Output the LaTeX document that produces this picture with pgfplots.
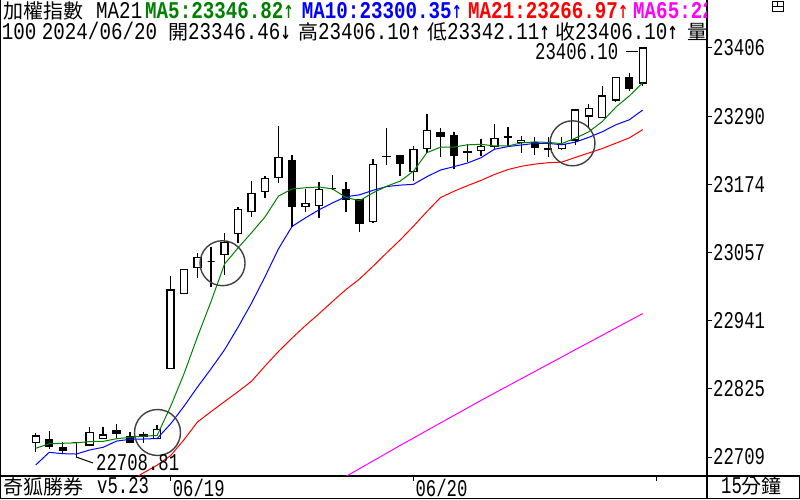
\documentclass[border=0pt]{standalone}
\usepackage{pgfplots}
\pgfplotsset{compat=1.18}
\usepackage{pgfplotstable}
\usepackage{fontspec}
\setmainfont{Liberation Serif}
\newfontfamily\mono[FakeStretch=0.8]{Liberation Mono}
\newfontfamily\monoax[FakeStretch=0.72]{Liberation Mono}
\newfontfamily\cjk{Noto Sans CJK TC}
\newfontfamily\arf[FakeStretch=0.7]{DejaVu Sans}
\definecolor{grn}{HTML}{008000}
\definecolor{blu}{HTML}{0000FF}
\definecolor{rd}{HTML}{FF0000}
\definecolor{mag}{HTML}{FF00FF}
\newcommand\T[1]{{\mono\fontsize{24pt}{24pt}\selectfont #1}}
\newcommand\TB[1]{{\mono\bfseries\fontsize{24pt}{24pt}\selectfont #1}}
\newcommand\C[1]{{\cjk\fontsize{20pt}{20pt}\selectfont #1}}
\newcommand\A[1]{{\monoax\fontsize{24pt}{24pt}\selectfont #1}}
\newcommand\AR[1]{{\arf\bfseries\fontsize{18pt}{18pt}\selectfont #1}}

\pgfplotstableread{
i O H L C F
0 22733.9 22749.2 22716.9 22744.6 white
1 22737.8 22753.2 22722.5 22726.4 black
2 22725.4 22734.9 22713.4 22720.8 black
3 22733.2 22734.9 22708.81 22733.2 white
4 22729.3 22759.5 22727.6 22750.9 white
5 22740.7 22760.5 22740.7 22746.3 white
6 22753.2 22764.6 22741.7 22748.6 black
7 22743.4 22750.9 22732.2 22733.2 black
8 22746.3 22751.5 22733.2 22743.4 black
9 22740.7 22763.4 22740.7 22756.1 white
10 22860.0 23017.4 22860.0 22993.5 white
11 22987.9 23028.8 22987.9 23028.8 white
12 23032.2 23056.1 23013.5 23049.3 white
13 23042.5 23066.3 22998.1 23042.5 white
14 23054.4 23090.2 23019.1 23074.9 white
15 23090.2 23134.5 23073.2 23131.1 white
16 23127.0 23179.4 23118.5 23158.4 white
17 23161.8 23187.9 23150.9 23184.0 white
18 23185.7 23273.1 23176.5 23219.8 white
19 23213.5 23223.7 23101.5 23135.6 black
20 23136.2 23166.2 23127.0 23141.3 white
21 23137.9 23177.7 23115.8 23165.2 white
22 23166.9 23189.1 23164.0 23166.9 white
23 23165.2 23177.7 23127.0 23148.2 black
24 23147.0 23147.0 23092.9 23107.3 black
25 23110.0 23216.4 23107.3 23207.8 white
26 23220.8 23269.2 23206.6 23221.5 white
27 23222.0 23222.0 23187.9 23209.5 black
28 23195.2 23239.0 23179.4 23233.4 white
29 23234.4 23293.6 23226.6 23265.8 white
30 23261.2 23269.7 23219.8 23254.9 black
31 23256.1 23262.9 23199.3 23222.5 black
32 23229.3 23242.4 23211.8 23228.5 black
33 23231.0 23250.5 23222.0 23237.8 white
34 23237.8 23276.5 23233.4 23252.2 white
35 23254.9 23271.9 23239.0 23254.2 black
36 23244.7 23256.1 23227.6 23248.8 white
37 23244.7 23253.9 23223.7 23236.8 black
38 23234.4 23253.9 23220.0 23233.7 black
39 23235.1 23253.9 23232.5 23241.9 white
40 23249.3 23300.4 23240.7 23300.4 white
41 23290.2 23310.6 23271.9 23303.3 white
42 23288.0 23341.3 23288.0 23324.3 white
43 23317.5 23356.1 23314.6 23356.1 white
44 23356.1 23364.0 23333.3 23337.4 black
45 23346.46 23406.10 23342.11 23406.10 white
}\candles

\pgfplotstableread{
i v
0 22723.7
1 22731.5
2 22732.2
3 22733.0
4 22735.2
5 22735.5
6 22740.0
7 22742.4
8 22744.5
9 22745.5
10 22795.0
11 22851.0
12 22914.2
13 22974.0
14 23037.8
15 23065.3
16 23091.2
17 23118.2
18 23153.6
19 23165.8
20 23167.8
21 23169.2
22 23165.8
23 23151.4
24 23145.8
25 23159.1
26 23170.3
27 23178.9
28 23195.9
29 23227.6
30 23237.0
31 23237.2
32 23241.0
33 23241.9
34 23239.2
35 23239.0
36 23244.3
37 23246.0
38 23245.1
39 23243.1
40 23252.3
41 23263.2
42 23280.7
43 23305.2
44 23324.3
45 23346.82
}\mafive

\pgfplotstableread{
i v
0 22695.2
1 22716.8
2 22714.5
3 22713.9
4 22720.8
5 22725.4
6 22736.0
7 22739.0
8 22739.5
9 22740.35
10 22765.24
11 22795.48
12 22828.33
13 22859.26
14 22891.66
15 22930.14
16 22971.12
17 23016.20
18 23063.84
19 23101.79
20 23116.57
21 23130.21
22 23141.97
23 23152.54
24 23155.78
25 23163.45
26 23169.76
27 23172.31
28 23173.67
29 23186.69
30 23198.05
31 23203.78
32 23209.94
33 23218.90
34 23233.39
35 23238.03
36 23240.76
37 23243.49
38 23243.52
39 23241.13
40 23245.68
41 23253.76
42 23263.34
43 23275.17
44 23283.69
45 23300.35
}\maten

\pgfplotstableread{
i v
7 22668.1
8 22681.9
9 22694.9
10 22711.2
11 22738.5
12 22768.7
13 22786.2
14 22803.3
15 22820.2
16 22837.9
17 22863.9
18 22888.7
19 22911.4
20 22932.96
21 22952.99
22 22973.97
23 22994.32
24 23012.13
25 23033.89
26 23056.52
27 23078.47
28 23102.29
29 23127.17
30 23150.92
31 23161.82
32 23171.33
33 23180.31
34 23190.30
35 23198.84
36 23204.44
37 23208.17
38 23210.54
39 23211.59
40 23219.44
41 23227.15
42 23234.72
43 23243.73
44 23252.74
45 23266.97
}\matwo

\pgfplotstableread{
i v
23 22675.8
24 22688.9
25 22702.0
26 22715.1
27 22728.4
28 22741.0
29 22754.0
30 22766.8
31 22779.6
32 22792.3
33 22805.2
34 22817.6
35 22829.9
36 22842.3
37 22854.6
38 22867.0
39 22879.3
40 22891.8
41 22904.0
42 22916.3
43 22928.8
44 22941.0
45 22953.3
}\masix

\begin{document}
\begin{tikzpicture}
\useasboundingbox (0pt,0pt) rectangle (800pt,500pt);
\begin{axis}[
  at={(0pt,24pt)}, anchor=south west,
  width=707pt, height=476pt, scale only axis,
  xmin=-2.646, xmax=49.763, ymin=22676.45, ymax=23487.93,
  axis x line*=bottom, axis y line*=right,
  axis line style={black, line width=1.3pt, -},
  x axis line style={-}, y axis line style={-},
  xtick={10,28,46}, xticklabels={06/19,06/20,{}},
  ytick={22708.81,22825.03,22941.24,23057.46,23173.67,23289.89,23406.10},
  yticklabels={22709,22825,22941,23057,23174,23290,23406},
  minor y tick num=3,
  tick align=outside,
  major tick length=5pt, minor tick length=2pt,
  tick style={black, line width=1pt},
  yticklabel style={font=\monoax\fontsize{24pt}{24pt}\selectfont, anchor=west, inner sep=0pt, xshift=1pt},
  xticklabel style={font=\monoax\fontsize{24pt}{24pt}\selectfont, anchor=north west, inner sep=0pt, xshift=2pt, yshift=2pt},
  clip=true,
]
\pgfplotsforeachungrouped \k in {0,...,45}{%
  \pgfplotstablegetelem{\k}{O}\of{\candles}\let\cO\pgfplotsretval
  \pgfplotstablegetelem{\k}{H}\of{\candles}\let\cH\pgfplotsretval
  \pgfplotstablegetelem{\k}{L}\of{\candles}\let\cL\pgfplotsretval
  \pgfplotstablegetelem{\k}{C}\of{\candles}\let\cC\pgfplotsretval
  \pgfplotstablegetelem{\k}{F}\of{\candles}\let\cF\pgfplotsretval
  \pgfmathsetmacro\xa{\k-0.26}%
  \pgfmathsetmacro\xb{\k+0.26}%
  \edef\temp{%
    \noexpand\addplot[forget plot, draw=black, line width=1.3pt] coordinates {(\k,\cL) (\k,\cH)};%
    \noexpand\addplot[forget plot, draw=black, fill=\cF, line width=1.3pt] coordinates {(\xa,\cO) (\xb,\cO) (\xb,\cC) (\xa,\cC)} -- cycle;%
  }%
  \temp
}
\addplot[mag, line width=1pt, forget plot] table[x=i,y=v] {\masix};
\addplot[rd, line width=1pt, forget plot] table[x=i,y=v] {\matwo};
\addplot[blu, line width=1pt, forget plot] table[x=i,y=v] {\maten};
\addplot[grn, line width=1pt, forget plot] table[x=i,y=v] {\mafive};
\draw[black!75, line width=1.4pt] (axis cs:9.03,22750.6) circle[radius=23pt];
\draw[black!75, line width=1.4pt] (axis cs:13.85,23039.2) circle[radius=22.5pt];
\draw[black!75, line width=1.4pt] (axis cs:39.79,23243.6) circle[radius=22.5pt];
\draw[black, line width=1pt] (axis cs:3,22708.81) -- (axis cs:4.25,22698.6);
\draw[black, line width=1pt] (axis cs:43.76,23399.8) -- (axis cs:44.65,23399.8);
\end{axis}
\begin{scope}[x=1pt,y=1pt]
% frame
\draw[line width=1.3pt] (0.65,2) -- (0.65,500);
\draw[line width=1.3pt] (707,24) -- (800,24);
\draw[line width=1.3pt] (0,1.5) -- (800,1.5);
\draw[line width=1.3pt] (707,1.5) -- (707,24);
\draw[line width=1.3pt] (799.2,1.5) -- (799.2,24);
% icon
\draw[line width=1pt] (772,488) rectangle (783,498);
\draw[line width=1pt] (772,493) -- (783,493);
\draw[line width=1pt] (777.5,493) -- (777.5,498);
% header rows
\begin{scope}
\clip (0,0) rectangle (706,500);
\node[anchor=base west, inner sep=0] at (3,481) {\C{加權指數}};
\node[anchor=base west, inner sep=0] at (96,481) {\T{MA21}};
\node[anchor=base west, inner sep=0, text=grn] at (145,481) {\TB{MA5:23346.82}\AR{↑}};
\node[anchor=base west, inner sep=0, text=blu] at (301.7,481) {\TB{MA10:23300.35}\AR{↑}};
\node[anchor=base west, inner sep=0, text=rd] at (468,481) {\TB{MA21:23266.97}\AR{↑}};
\node[anchor=base west, inner sep=0, text=mag] at (633,481) {\TB{MA65:22953.30}\AR{↑}};
\node[anchor=base west, inner sep=0] at (1.7,460.5) {\T{100}};
\node[anchor=base west, inner sep=0] at (41.7,460.5) {\T{2024/06/20}};
\node[anchor=base west, inner sep=0] at (168,460.5) {\C{開}};
\node[anchor=base west, inner sep=0] at (188,460.5) {\T{23346.46}\AR{↓}};
\node[anchor=base west, inner sep=0] at (298,460.5) {\C{高}};
\node[anchor=base west, inner sep=0] at (318,460.5) {\T{23406.10}\AR{↑}};
\node[anchor=base west, inner sep=0] at (427,460.5) {\C{低}};
\node[anchor=base west, inner sep=0] at (447,460.5) {\T{23342.11}\AR{↑}};
\node[anchor=base west, inner sep=0] at (555,460.5) {\C{收}};
\node[anchor=base west, inner sep=0] at (575,460.5) {\T{23406.10}\AR{↑}};
\node[anchor=base west, inner sep=0] at (687,460.5) {\C{量}};
\end{scope}
% price annotations
\node[anchor=base west, inner sep=0] at (96,29) {\A{22708.81}};
\node[anchor=base west, inner sep=0] at (535,440) {\A{23406.10}};
% bottom strip
\node[anchor=base west, inner sep=0] at (3,5.4) {\C{奇狐勝券}};
\node[anchor=base west, inner sep=0] at (97,6) {\A{v5.23}};
\node[anchor=base west, inner sep=0] at (721,6) {\A{15}\C{分鐘}};
\end{scope}
\end{tikzpicture}
\end{document}
